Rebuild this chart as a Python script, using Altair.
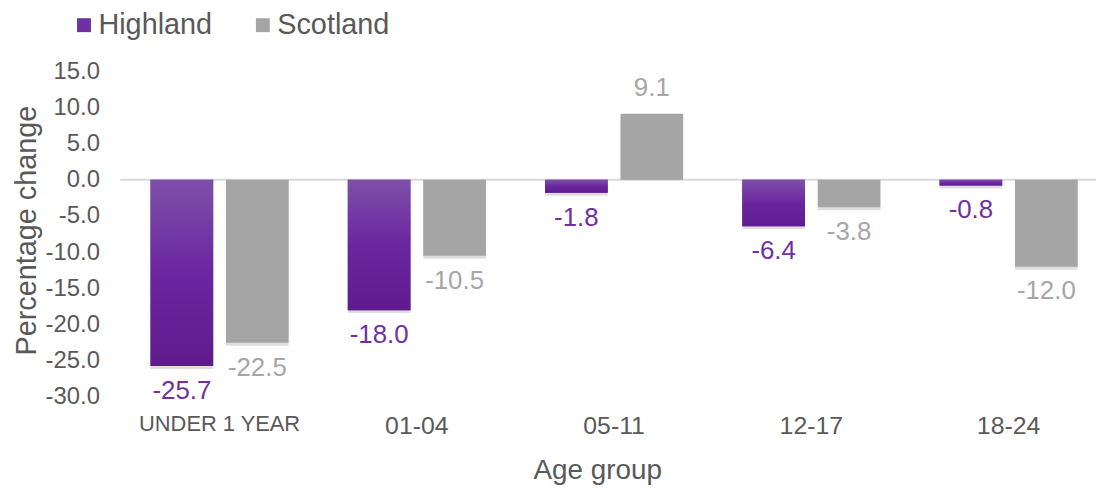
import altair as alt
import pandas as pd

ages = ["UNDER 1 YEAR", "01-04", "05-11", "12-17", "18-24"]
series = ["Highland", "Scotland"]
highland = [-25.7, -18.0, -1.8, -6.4, -0.8]
scotland = [-22.5, -10.5, 9.1, -3.8, -12.0]
y_ticks = [-30, -25, -20, -15, -10, -5, 0, 5, 10, 15]

rows = []
for a, h, s in zip(ages, highland, scotland):
    rows.append({"age": a, "series": "Highland", "value": h, "label": f"{h:.1f}"})
    rows.append({"age": a, "series": "Scotland", "value": s, "label": f"{s:.1f}"})
df = pd.DataFrame(rows)

W, H = 970, 328
TXT = "#595959"
FONT = "Liberation Sans"

x_enc = alt.X("age:N", sort=ages,
              scale=alt.Scale(paddingInner=0.3, paddingOuter=0.093, round=False),
              axis=alt.Axis(title="Age group",
                            labelFontSize={"condition": {"test": "datum.value == 'UNDER 1 YEAR'", "value": 22}, "value": 25},
                            labelColor=TXT, labelPadding=17, labelAngle=0, domain=False, ticks=False,
                            titleFontSize=28, titleColor=TXT, titleFontWeight="normal",
                            titleX=468, titleY=74, titleBaseline="middle"))
xo_enc = alt.XOffset("series:N", sort=series,
                     scale=alt.Scale(paddingInner=0.17, paddingOuter=0))
y_enc = alt.Y("value:Q",
              scale=alt.Scale(domain=[-30, 15], nice=False, zero=False),
              axis=alt.Axis(title="Percentage change", values=y_ticks,
                            labelExpr="replace(format(datum.value, '.1f'), '\u2212', '-')",
                            labelFontSize=24, labelColor=TXT, labelPadding=33, labelOverlap=False,
                            domain=False, ticks=False, grid=False,
                            titleFontSize=29, titleColor=TXT, titleFontWeight="normal",
                            titleX=-106, titleY=160, titleAngle=-90, titleBaseline="middle"))

base = alt.Chart(df)

zero = alt.Chart(pd.DataFrame({"value": [0.0]})).mark_rule(color="#d9d9d9", strokeWidth=2).encode(
    y=y_enc, x=alt.value(-12), x2=alt.value(W)
)

shadow = base.mark_bar(color="#000000", opacity=0.13, xOffset=1.5, yOffset=3).encode(
    x=x_enc, xOffset=xo_enc, y=y_enc, y2=alt.datum(0)
)

bars = base.mark_bar().encode(
    x=x_enc, xOffset=xo_enc, y=y_enc, y2=alt.datum(0),
    color=alt.Color("series:N", sort=series,
                    scale=alt.Scale(domain=series, range=["#7030A0", "#A5A5A5"]),
                    legend=alt.Legend(title=None, orient="none", direction="horizontal",
                                      legendX=-63, legendY=-61, symbolType="square",
                                      symbolSize=196, symbolStrokeWidth=0,
                                      labelFontSize=29, labelColor=TXT, labelOffset=0,
                                      columnPadding=36, padding=0))
)

grad = alt.LinearGradient(gradient="linear", x1=0, y1=0, x2=0, y2=1,
                          stops=[alt.GradientStop(color="#7E50A8", offset=0),
                                 alt.GradientStop(color="#6A26A0", offset=0.5),
                                 alt.GradientStop(color="#5F1B8E", offset=1)])
hbars = base.transform_filter(alt.datum.series == "Highland").mark_bar(color=grad).encode(
    x=x_enc, xOffset=xo_enc, y=y_enc, y2=alt.datum(0)
)

lab_color = alt.condition(alt.datum.series == "Highland", alt.value("#7030A0"), alt.value("#A6A6A6"))

neg_lab = base.transform_filter(alt.datum.value < 0).mark_text(
    fontSize=26, baseline="middle", dy=25, font=FONT).encode(
    x=x_enc, xOffset=xo_enc, y=y_enc, text="label:N", color=lab_color)
pos_lab = base.transform_filter(alt.datum.value >= 0).mark_text(
    fontSize=26, baseline="middle", dy=-26, font=FONT).encode(
    x=x_enc, xOffset=xo_enc, y=y_enc, text="label:N", color=lab_color)

chart = alt.layer(zero, shadow, bars, hbars, neg_lab, pos_lab).properties(
    width=W, height=H,
    autosize=alt.AutoSizeParams(type="none"),
    padding={"left": 125, "top": 62, "right": 0, "bottom": 92},
).configure(font=FONT).configure_view(stroke=None)

chart.save("out.html", embed_options={"renderer": "svg", "actions": False})
